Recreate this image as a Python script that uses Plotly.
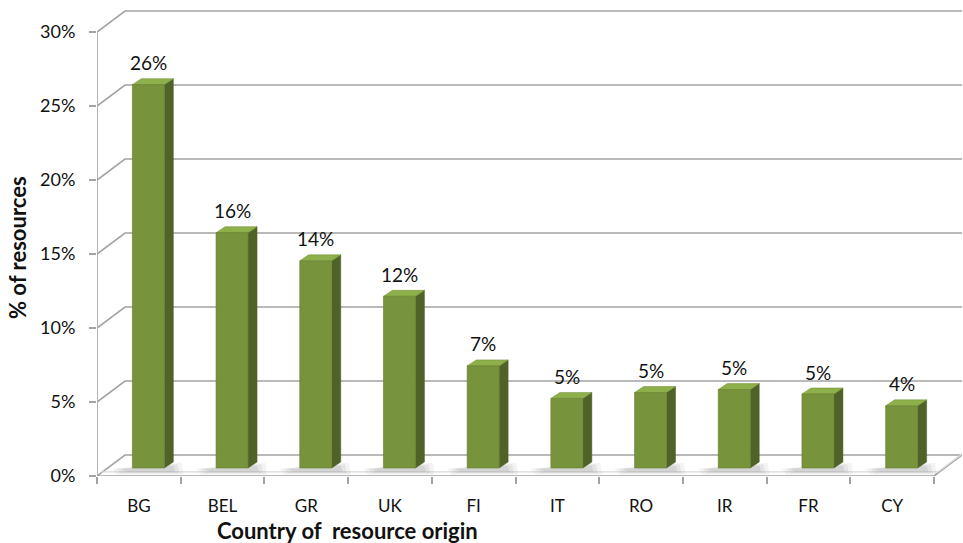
import plotly.graph_objects as go

countries = ["BG", "BEL", "GR", "UK", "FI", "IT", "RO", "IR", "FR", "CY"]
shares = [25.9, 15.9, 14.0, 11.6, 6.9, 4.7, 5.1, 5.3, 5.0, 4.2]
labels = ["26%", "16%", "14%", "12%", "7%", "5%", "5%", "5%", "5%", "4%"]
y_ticks = [0, 5, 10, 15, 20, 25, 30]
y_tick_text = ["0%", "5%", "10%", "15%", "20%", "25%", "30%"]

W, H = 963, 543
ML, MR, MT, MB = 97, 1, 10, 67
KX = 83.7   # px per category
KY = 14.8   # px per percent
xr = [-0.5, -0.5 + (W - ML - MR) / KX]
yr = [0, (H - MT - MB) / KY]

OX, OY = 28 / KX, 21 / KY          # depth of the box
FX, FY = 9.5 / KX, 8 / KY          # bar front-face offset
HW = 16 / KX                       # bar half width
SX, SY = 9 / KX, 6 / KY            # bar depth

GRID = "#a3a3a3"
FRONT = "#77933c"
SIDE = "#4f6228"
TOP = "#8db04a"
FONT = "Lato"

fig = go.Figure()

# back wall gridlines + side-wall diagonals
gx, gy = [], []
for v in y_ticks:
    gx += [-0.5, -0.5 + OX, 9.5 + OX, None]
    gy += [v, v + OY, v + OY, None]
# floor front and right edges
gx += [-0.5, 9.5, 9.5 + OX, None]
gy += [0, 0, OY, None]
fig.add_trace(go.Scatter(x=gx, y=gy, mode="lines", line=dict(color=GRID, width=1.6),
                         hoverinfo="skip", showlegend=False))
# floor thickness hint
fig.add_trace(go.Scatter(x=[-0.5 + OX * 0.15, 9.5 + OX * 0.15, 9.5 + OX * 1.0], y=[OY * 0.2, OY * 0.2, OY * 1.05],
                         mode="lines", line=dict(color="#d9d9d9", width=1.2),
                         hoverinfo="skip", showlegend=False))
# front left axis line
fig.add_trace(go.Scatter(x=[-0.5, -0.5], y=[0, 30], mode="lines",
                         line=dict(color=GRID, width=1.6), hoverinfo="skip", showlegend=False))

# soft bar shadows on floor
for alpha, grow in [(0.10, 0.10), (0.14, 0.05), (0.18, 0.0)]:
    shx, shy = [], []
    for i, v in enumerate(shares):
        cx = i + FX
        l, r = cx - HW - 0.14 - grow, cx + HW + SX + 0.02 + grow
        b, t = FY - 0.25 - grow * 2, FY + 0.15 + grow * 2
        shx += [l, l + 0.06, r, r - 0.02, l, None]
        shy += [(b + t) / 2, b, b, t, (b + t) / 2, None]
    fig.add_trace(go.Scatter(x=shx, y=shy, mode="lines", fill="toself",
                             fillcolor=f"rgba(140,140,140,{alpha})",
                             line=dict(width=0), hoverinfo="skip", showlegend=False))

# front, side and top faces
fx_, fy_, sx, sy, tx, ty = [], [], [], [], [], []
for i, v in enumerate(shares):
    r = i + FX + HW
    l = i + FX - HW
    b = FY
    t = v + FY
    fx_ += [l, r, r, l, l, None]
    fy_ += [b, b, t, t, b, None]
    sx += [r, r + SX, r + SX, r, r, None]
    sy += [b, b + SY, t + SY, t, b, None]
    tx += [l, r, r + SX, l + SX, l, None]
    ty += [t, t, t + SY, t + SY, t, None]
fig.add_trace(go.Scatter(x=sx, y=sy, mode="lines", fill="toself", fillcolor=SIDE,
                         line=dict(width=0.5, color=SIDE), hoverinfo="skip", showlegend=False))
fig.add_trace(go.Scatter(x=tx, y=ty, mode="lines", fill="toself", fillcolor=TOP,
                         line=dict(width=0.5, color="#6f8c34"), hoverinfo="skip", showlegend=False))
fig.add_trace(go.Scatter(x=fx_, y=fy_, mode="lines", fill="toself", fillcolor=FRONT,
                         line=dict(width=0.6, color="#66802f"), hoverinfo="skip", showlegend=False))

for i, (v, lab) in enumerate(zip(shares, labels)):
    fig.add_annotation(x=i + FX, y=v + FY + 22 / KY, text=lab, showarrow=False,
                       font=dict(family=FONT, size=19, color="#111111"),
                       xanchor="center", yanchor="middle")

fig.add_annotation(xref="paper", yref="paper", x=(347 - ML) / (W - ML - MR),
                   y=-(530 - (H - MB)) / (H - MT - MB), text="<b>Country of  resource origin</b>",
                   showarrow=False, xanchor="center", yanchor="middle",
                   font=dict(family=FONT, size=22, color="#111111"))
fig.add_annotation(xref="paper", yref="paper", x=-(ML - 17) / (W - ML - MR),
                   y=((H - MB) - 248) / (H - MT - MB), text="<b>% of resources</b>",
                   textangle=-90, showarrow=False, xanchor="center", yanchor="middle",
                   font=dict(family=FONT, size=22, color="#111111"))

fig.update_layout(
    width=W, height=H, margin=dict(l=ML, r=MR, t=MT, b=MB),
    paper_bgcolor="white", plot_bgcolor="white",
    font=dict(family=FONT, size=18, color="#111111"),
    xaxis=dict(range=xr, tickmode="array", tickvals=list(range(len(countries))),
               ticktext=countries, ticks="", showgrid=False, zeroline=False, showline=False,
               ticklabelstandoff=18, tickfont=dict(size=17),
               minor=dict(tickmode="array", tickvals=[k - 0.5 for k in range(len(countries) + 1)],
                          ticks="outside", ticklen=7, tickcolor=GRID, tickwidth=1.6, showgrid=False),
               fixedrange=True),
    yaxis=dict(range=yr, tickmode="array", tickvals=y_ticks, ticktext=y_tick_text,
               ticks="outside", ticklen=7, tickcolor=GRID, tickwidth=1.6,
               showgrid=False, zeroline=False, showline=False, ticklabelstandoff=10,
               tickfont=dict(size=18), fixedrange=True),
)

fig.write_html("out.html", config={"displayModeBar": False},
               post_script="document.body.style.margin='0px';document.body.style.overflow='hidden';")
